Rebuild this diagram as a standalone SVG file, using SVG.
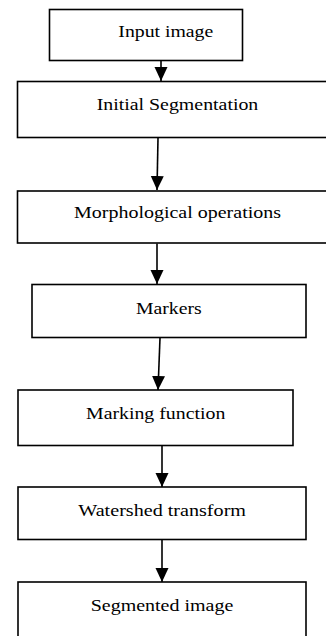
<svg xmlns="http://www.w3.org/2000/svg" width="326" height="636" viewBox="0 0 326 636">
<style>
.box{fill:#fff;stroke:#000;stroke-width:1.6}
.lbl{font-family:"Liberation Serif","Times New Roman",serif;font-size:16.5px;fill:#000}
.conn{stroke:#000;stroke-width:1.6;fill:none;marker-end:url(#ah)}
</style>
<defs>
<marker id="ah" markerUnits="userSpaceOnUse" markerWidth="14" markerHeight="14" refX="14" refY="6.5" orient="auto">
<path d="M0,0 L14,6.5 L0,13 z" fill="#000"/>
</marker>
</defs>
<rect width="326" height="636" fill="#fff"/>
<g id="connectors">
<line class="conn" x1="161" y1="60.5" x2="161" y2="81"/>
<line class="conn" x1="158" y1="138" x2="157" y2="190"/>
<line class="conn" x1="157" y1="243.5" x2="157" y2="284"/>
<line class="conn" x1="160" y1="338" x2="158" y2="390"/>
<line class="conn" x1="162" y1="445.5" x2="162" y2="487"/>
<line class="conn" x1="162" y1="539.5" x2="162" y2="582"/>
</g>
<g id="input-image">
<rect class="box" x="49.5" y="9.5" width="193" height="51"/>
<text class="lbl" x="118.3" y="37" textLength="95" lengthAdjust="spacingAndGlyphs">Input image</text>
</g>
<g id="initial-segmentation">
<rect class="box" x="17.5" y="81.5" width="320" height="56"/>
<text class="lbl" x="96.7" y="110" textLength="161.6" lengthAdjust="spacingAndGlyphs">Initial Segmentation</text>
</g>
<g id="morphological-operations">
<rect class="box" x="17.5" y="191" width="320" height="52"/>
<text class="lbl" x="74" y="218" textLength="207" lengthAdjust="spacingAndGlyphs">Morphological operations</text>
</g>
<g id="markers">
<rect class="box" x="32" y="284.5" width="274" height="53"/>
<text class="lbl" x="136" y="314" textLength="65.7" lengthAdjust="spacingAndGlyphs">Markers</text>
</g>
<g id="marking-function">
<rect class="box" x="18" y="390" width="275" height="55.5"/>
<text class="lbl" x="86" y="419.3" textLength="139.3" lengthAdjust="spacingAndGlyphs">Marking function</text>
</g>
<g id="watershed-transform">
<rect class="box" x="18" y="487" width="288" height="52.5"/>
<text class="lbl" x="78.3" y="516" textLength="167.7" lengthAdjust="spacingAndGlyphs">Watershed transform</text>
</g>
<g id="segmented-image">
<rect class="box" x="18" y="582" width="288" height="70"/>
<text class="lbl" x="90.7" y="610.7" textLength="142.6" lengthAdjust="spacingAndGlyphs">Segmented image</text>
</g>
</svg>
